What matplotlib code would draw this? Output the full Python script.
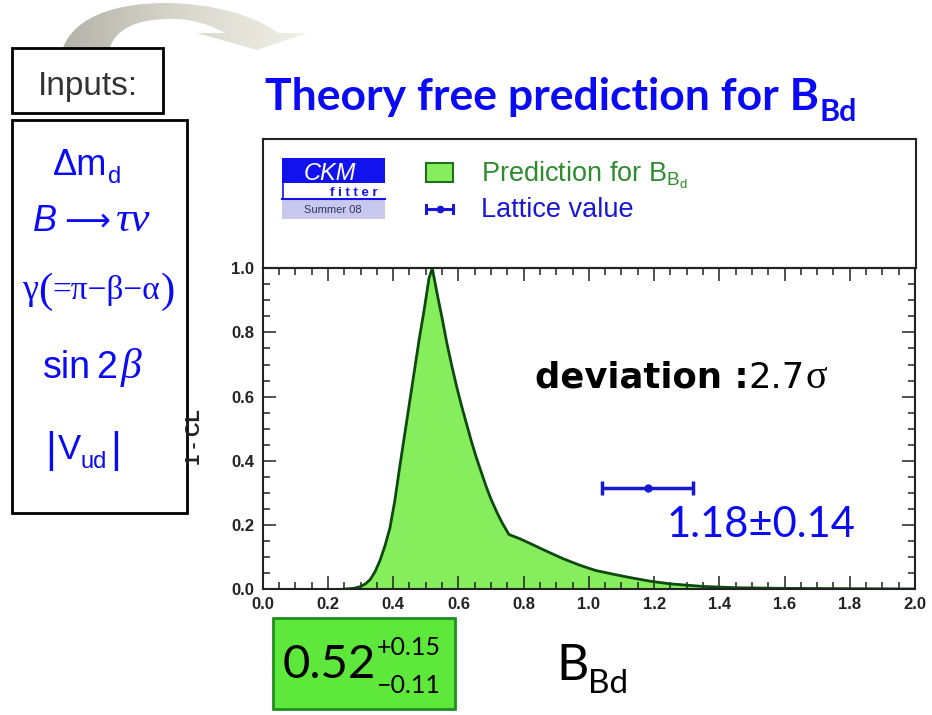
import numpy as np
import matplotlib
matplotlib.use("Agg")
import matplotlib.pyplot as plt
from matplotlib.path import Path
from matplotlib.patches import PathPatch, Rectangle
from matplotlib.ticker import MultipleLocator

plt.rcParams['mathtext.fontset'] = 'custom'
plt.rcParams['mathtext.rm'] = 'Liberation Sans'
plt.rcParams['mathtext.it'] = 'Liberation Sans:italic'
plt.rcParams['mathtext.bf'] = 'Liberation Sans:bold'

# ---- data -------------------------------------------------------------
bbd = [0.25, 0.28, 0.30, 0.315, 0.33, 0.345, 0.36, 0.375, 0.39, 0.405,
       0.42, 0.435, 0.45, 0.465, 0.48, 0.495, 0.51, 0.52, 0.535, 0.55,
       0.565, 0.58, 0.595, 0.61, 0.625, 0.64, 0.655, 0.67, 0.685, 0.70,
       0.72, 0.735, 0.755, 0.79, 0.82, 0.87, 0.92, 0.97, 1.02, 1.08,
       1.13, 1.19, 1.25, 1.35, 1.45, 1.6, 1.8, 2.0]
one_minus_cl = [0.0, 0.002, 0.008, 0.016, 0.03, 0.055, 0.09, 0.135, 0.19,
                0.275, 0.38, 0.48, 0.58, 0.68, 0.78, 0.87, 0.97, 1.0, 0.92,
                0.845, 0.765, 0.695, 0.63, 0.57, 0.515, 0.46, 0.41, 0.365,
                0.32, 0.28, 0.235, 0.205, 0.17, 0.156, 0.142, 0.118, 0.095,
                0.075, 0.058, 0.045, 0.035, 0.024, 0.016, 0.008, 0.004,
                0.002, 0.001, 0.0]
lattice_value = 1.18
lattice_error = 0.14
lattice_level = 0.314
prediction_central = 0.52
prediction_up = 0.15
prediction_down = 0.11
deviation_sigma = 2.7
x_ticks = [0.0, 0.2, 0.4, 0.6, 0.8, 1.0, 1.2, 1.4, 1.6, 1.8, 2.0]
y_ticks = [0.0, 0.2, 0.4, 0.6, 0.8, 1.0]

W, H = 932, 715
fig = plt.figure(figsize=(W / 100, H / 100), dpi=100)
fig.patch.set_facecolor('white')

GREEN_FILL = '#86ee5c'
GREEN_EDGE = '#0e4a0e'
BLUE = '#0a0af5'
ERR_BLUE = '#1818d2'

def fx(px):
    return px / W

def fy(py):
    return 1 - py / H

# ---- main plot --------------------------------------------------------
ax = fig.add_axes([fx(262.7), fy(589), fx(915) - fx(262.7), fy(268.3) - fy(589)])
ax.fill_between(bbd, one_minus_cl, 0, color=GREEN_FILL, lw=0, zorder=1)
ax.plot(bbd, one_minus_cl, color=GREEN_EDGE, lw=2.0, zorder=2)
ax.errorbar(lattice_value, lattice_level, xerr=lattice_error, fmt='o',
            color=ERR_BLUE, ms=5, elinewidth=2.5, capsize=5, capthick=2.5,
            zorder=3)
ax.set_xlim(0, 2.0)
ax.set_ylim(0, 1.0)
ax.set_xticks(x_ticks)
ax.set_yticks(y_ticks)
ax.set_xticklabels([f"{v:.1f}" for v in x_ticks])
ax.set_yticklabels([f"{v:.1f}" for v in y_ticks])
ax.xaxis.set_minor_locator(MultipleLocator(0.05))
ax.yaxis.set_minor_locator(MultipleLocator(0.05))
ax.tick_params(which='both', direction='in', top=True, right=True,
               width=1.1, color='#222222')
ax.tick_params(which='major', length=9.5, pad=6,
               labelsize=12, labelcolor='#222222')
ax.tick_params(which='minor', length=5)
for lab in ax.get_xticklabels() + ax.get_yticklabels():
    lab.set_fontfamily('Liberation Sans')
    lab.set_fontweight('bold')
for sp in ax.spines.values():
    sp.set_linewidth(1.5)
    sp.set_color('#222222')

# ---- legend panel above the plot --------------------------------------
lg = fig.add_axes([fx(263), fy(268.3), fx(916) - fx(263), fy(139) - fy(268.3)])
lg.set_xticks([])
lg.set_yticks([])
for sp in lg.spines.values():
    sp.set_linewidth(1.5)
    sp.set_color('#222222')
lg.patch.set_alpha(0)

# ---- overlay in pixel coordinates ------------------------------------
ov = fig.add_axes([0, 0, 1, 1], zorder=10)
ov.set_xlim(0, W)
ov.set_ylim(H, 0)
ov.axis('off')
ov.patch.set_alpha(0)

renderer = fig.canvas.get_renderer()

def row(x, y, pieces, color):
    """Draw text pieces one after another, starting at pixel x, baseline y."""
    for txt, kw in pieces:
        kw = dict(kw)
        dy = kw.pop('dy', 0)
        gap = kw.pop('gap', 0)
        x += gap
        t = ov.text(x, y + dy, txt, ha='left', va='baseline', color=color, **kw)
        bb = t.get_window_extent(renderer)
        x += bb.width
    return x

# curved arrow at the top left
arrow = Path([(63, 48), (75, 15), (120, 3), (165, 3),
              (210, 3), (255, 15), (278, 33),
              (307, 33), (257, 50), (197, 33), (225, 33),
              (205, 22), (185, 18), (165, 19),
              (135, 20), (115, 30), (110, 48), (63, 48)],
             [Path.MOVETO, Path.CURVE4, Path.CURVE4, Path.CURVE4,
              Path.CURVE4, Path.CURVE4, Path.CURVE4,
              Path.LINETO, Path.LINETO, Path.LINETO, Path.LINETO,
              Path.CURVE4, Path.CURVE4, Path.CURVE4,
              Path.CURVE4, Path.CURVE4, Path.CURVE4, Path.CLOSEPOLY])
arrow_patch = PathPatch(arrow, facecolor='none', edgecolor='none')
ov.add_patch(arrow_patch)
grad = np.linspace(0, 1, 256)[None, :]
cmap = matplotlib.colors.LinearSegmentedColormap.from_list(
    'arrowfade', ['#b2b2a8', '#d9d8ce', '#f2f1e8'])
im = ov.imshow(grad, extent=(60, 310, 52, 0), cmap=cmap, aspect='auto',
               zorder=1)
im.set_clip_path(arrow_patch)
ov.set_xlim(0, W)
ov.set_ylim(H, 0)

# inputs boxes
ov.add_patch(Rectangle((12, 48), 151, 65, fill=False, lw=2, ec='black'))
ov.text(88, 95, 'Inputs:', ha='center', va='baseline', fontsize=24,
        family='Liberation Sans', color='#333333')
ov.add_patch(Rectangle((12, 120), 175, 393, fill=False, lw=2, ec='black'))

sans = dict(family='Liberation Sans')
serif = dict(family='Liberation Serif')
dejavu = dict(family='DejaVu Sans')
row(53, 175, [('Δm', dict(fontsize=26, **sans)),
              ('d', dict(fontsize=17, dy=8, gap=1, **sans))], BLUE)
row(33, 231, [('B', dict(fontsize=26, style='italic', **sans)),
              ('⟶', dict(fontsize=23, gap=7, dy=-1, **dejavu)),
              ('τν', dict(fontsize=31, style='italic', gap=5, **serif))], BLUE)
row(22, 299, [('γ', dict(fontsize=26, **serif)),
              ('(', dict(fontsize=31, dy=3, **serif)),
              ('=π−β−α', dict(fontsize=24, **serif)),
              (')', dict(fontsize=31, dy=3, **serif))], BLUE)
row(43, 378, [('sin', dict(fontsize=27, **sans)),
              ('2', dict(fontsize=27, gap=5, **sans)),
              ('β', dict(fontsize=30, style='italic', gap=4, **serif))], BLUE)
row(45, 459, [('|', dict(fontsize=30, dy=3, **sans)),
              ('V', dict(fontsize=25, gap=2, **sans)),
              ('ud', dict(fontsize=17, dy=9, **sans)),
              ('|', dict(fontsize=30, dy=3, gap=3, **sans))], BLUE)

# title
row(265, 110, [('Theory free prediction for B',
                dict(fontsize=32, family='Lato', weight='bold')),
               ('Bd', dict(fontsize=22, family='Lato', weight='bold', dy=11))],
    BLUE)

# CKMfitter logo
ov.add_patch(Rectangle((282, 158), 103, 25, fc='#1212ee', ec='none'))
ov.text(330, 180, 'CKM', ha='center', va='baseline', fontsize=17,
        style='italic', family='Liberation Sans', color='white')
ov.add_patch(Rectangle((282, 183), 103, 16, fc='white', ec='none'))
ov.plot([282.5, 282.5], [183, 199], color='#1212ee', lw=1.2)
ov.plot([282, 385], [198.5, 198.5], color='#1212ee', lw=1.5)
ov.text(378, 196, 'f i t t e r', ha='right', va='baseline', fontsize=9.5,
        weight='bold', family='Liberation Sans', color='#1212ee')
ov.add_patch(Rectangle((282, 199.5), 103, 19.5, fc='#c8c8ef', ec='none'))
ov.text(333, 213, 'Summer 08', ha='center', va='baseline', fontsize=8,
        family='Liberation Sans', color='#333366')

# legend entries
ov.add_patch(Rectangle((426, 163), 27, 19, fc=GREEN_FILL, ec='#1e6e1e', lw=1.5))
ov.text(481, 181, r'Prediction for B$_{\mathrm{B}_{\mathrm{d}}}$',
        ha='left', va='baseline', fontsize=19.5, family='Liberation Sans',
        color='#2e8b2e')
ov.plot([426, 453], [209, 209], color=ERR_BLUE, lw=2.2)
ov.plot([426, 426], [205, 213], color=ERR_BLUE, lw=2.2)
ov.plot([453, 453], [205, 213], color=ERR_BLUE, lw=2.2)
ov.plot([439.5], [209], 'o', color=ERR_BLUE, ms=4.5)
ov.text(481, 217, 'Lattice value', ha='left', va='baseline', fontsize=19.5,
        family='Liberation Sans', color=ERR_BLUE)

# 1 - CL axis label
ov.text(195, 437, '1 - CL', ha='center', va='center', rotation=90,
        fontsize=14.5, weight='bold', family='Liberation Sans', color='#222222')

# deviation note
row(535, 388, [('deviation :', dict(fontsize=25.5, family='DejaVu Sans',
                                    weight='bold')),
               (f'{deviation_sigma:.1f}', dict(fontsize=25.5, family='DejaVu Sans')),
               ('σ', dict(fontsize=29, family='Liberation Serif', gap=1))],
    'black')

# lattice value label
ov.text(667, 537, f'{lattice_value:.2f}±{lattice_error:.2f}', ha='left',
        va='baseline', fontsize=30, family='Lato', color=BLUE)

# prediction box
ov.add_patch(Rectangle((273, 618), 182, 91, fc='#5ee83c', ec='#1f8f1f', lw=2))
x_end = row(283, 678, [(f'{prediction_central:.2f}',
                        dict(fontsize=34, family='Lato'))], 'black')
ov.text(x_end, 655, f'+{prediction_up:.2f}', ha='left', va='baseline',
        fontsize=18, family='Lato', color='black')
ov.text(x_end, 693, f'−{prediction_down:.2f}', ha='left', va='baseline',
        fontsize=18, family='Lato', color='black')

# x axis label
row(556, 680, [('B', dict(fontsize=36, family='Lato')),
               ('Bd', dict(fontsize=24, family='Lato', dy=13))], 'black')

fig.savefig('out.png', dpi=100, facecolor='white')
